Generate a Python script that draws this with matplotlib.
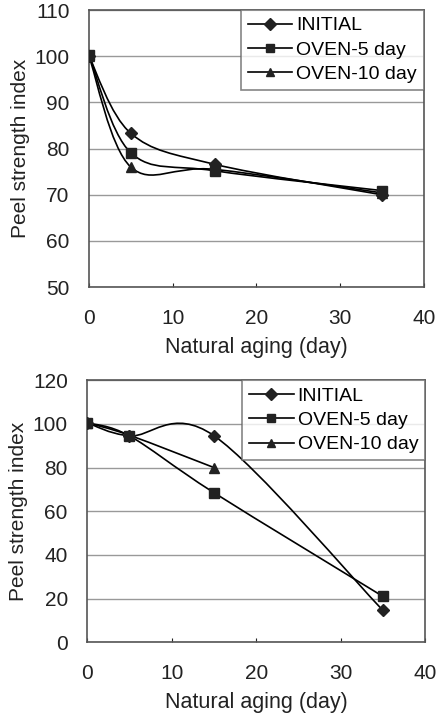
import matplotlib
matplotlib.use("Agg")
from matplotlib import pyplot as plt
from matplotlib.path import Path
from matplotlib.patches import PathPatch
from matplotlib.lines import Line2D

plt.rcParams["font.family"] = ["Liberation Sans", "DejaVu Sans"]

series_names = ["INITIAL", "OVEN-5 day", "OVEN-10 day"]
markers = ["D", "s", "^"]

# top panel
top_days = [[0, 5, 15, 35], [0, 5, 15, 35], [0, 5, 15, 35]]
top_values = [[100, 83.3, 76.6, 70.0],
              [100.3, 79.1, 75.2, 70.9],
              [100, 76.0, 75.5, 70.4]]

# bottom panel
bottom_days = [[0, 5, 15, 35], [0, 5, 15, 35], [0, 5, 15]]
bottom_values = [[100.5, 94.5, 94.6, 14.6],
                 [100.5, 94.5, 68.5, 21.0],
                 [100.5, 94.8, 80.0]]


def smooth_path(xs, ys):
    """Bezier path through the points, like Excel's smoothed line."""
    pts = list(zip(xs, ys))
    verts = [pts[0]]
    codes = [Path.MOVETO]
    n = len(pts)
    for i in range(n - 1):
        p0 = pts[i - 1] if i > 0 else pts[i]
        p1 = pts[i]
        p2 = pts[i + 1]
        p3 = pts[i + 2] if i + 2 < n else pts[i + 1]
        c1 = (p1[0] + (p2[0] - p0[0]) / 6, p1[1] + (p2[1] - p0[1]) / 6)
        c2 = (p2[0] - (p3[0] - p1[0]) / 6, p2[1] - (p3[1] - p1[1]) / 6)
        verts += [c1, c2, p2]
        codes += [Path.CURVE4] * 3
    return Path(verts, codes)


def draw_panel(ax, days, values, ylim, yticks):
    for d, v, m in zip(days, values, markers):
        ax.add_patch(PathPatch(smooth_path(d, v), facecolor="none",
                               edgecolor="black", lw=1.2, zorder=3))
        ax.plot(d, v, linestyle="none", marker=m, color="#222222",
                markersize=7 if m != "D" else 6, zorder=4)
    ax.set_xlim(0, 40)
    ax.set_ylim(*ylim)
    ax.set_xticks(range(0, 41, 10))
    ax.set_yticks(yticks)
    ax.grid(axis="y", color="#999999", lw=1)
    ax.set_axisbelow(True)
    ax.tick_params(direction="in", length=3, labelsize=15, pad=16, colors="#222222")
    ax.tick_params(axis="y", length=0, pad=14)
    for s in ax.spines.values():
        s.set_color("#555555")
        s.set_linewidth(1.2)
    ax.set_xlabel("Natural aging (day)", fontsize=15.5, color="#222222", labelpad=6)
    ax.set_ylabel("Peel strength index", fontsize=15, color="#222222", labelpad=3)
    handles = [Line2D([0], [0], color="black", lw=1.2, marker=m, markersize=6,
                      markerfacecolor="#222222", markeredgecolor="#222222")
               for m in markers]
    leg = ax.legend(handles, series_names, loc="upper right", fontsize=14,
                    frameon=True, fancybox=False, borderaxespad=0,
                    handlelength=2.3, handletextpad=0.2, labelspacing=0.35,
                    borderpad=0.35)
    leg.get_frame().set_edgecolor("#666666")
    leg.get_frame().set_linewidth(1.2)


fig = plt.figure(figsize=(4.36, 7.16), dpi=100)
ax1 = fig.add_axes([0.204, 0.599, 0.768, 0.387])
ax2 = fig.add_axes([0.200, 0.103, 0.775, 0.366])

draw_panel(ax1, top_days, top_values, (50, 110), range(50, 111, 10))
draw_panel(ax2, bottom_days, bottom_values, (0, 120), range(0, 121, 20))

fig.savefig("out.png", dpi=100)
